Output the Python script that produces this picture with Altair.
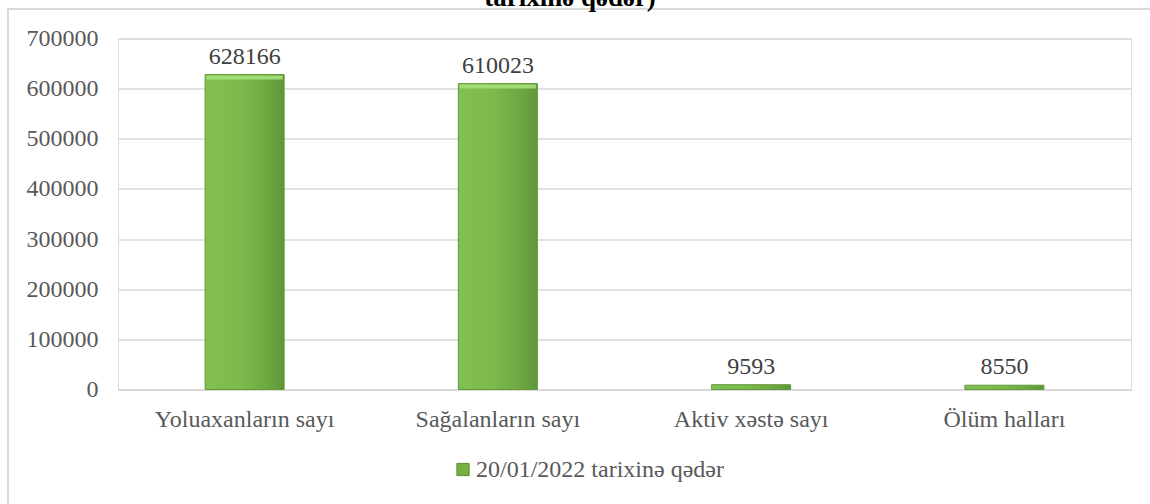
import altair as alt
import pandas as pd

categories = ["Yoluaxanların sayı", "Sağalanların sayı", "Aktiv xəstə sayı", "Ölüm halları"]
values = [628166, 610023, 9593, 8550]
series_name = "20/01/2022 tarixinə qədər"
title_tail = "tarixinə qədər)"
y_ticks = [0, 100000, 200000, 300000, 400000, 500000, 600000, 700000]

df = pd.DataFrame({"cat": categories, "val": values, "series": [series_name] * len(categories)})

W, H = 1013, 351
FONT = "Liberation Serif"
GRAY = "#595959"

x_enc = alt.X("cat:N", sort=categories,
              scale=alt.Scale(paddingInner=0.688, paddingOuter=0.344),
              axis=alt.Axis(title=None, labelAngle=0, labelFont=FONT, labelFontSize=24,
                            labelColor=GRAY, ticks=False, domainColor="#d9d9d9",
                            domainWidth=1.5, labelPadding=18))
y_enc = alt.Y("val:Q", scale=alt.Scale(domain=[0, 700000], nice=False),
              axis=alt.Axis(title=None, values=y_ticks, format="d", labelFont=FONT,
                            labelFontSize=24, labelColor=GRAY, ticks=False, domain=False,
                            gridColor="#d9d9d9", gridWidth=1.5, labelPadding=20))

grad = alt.Gradient(gradient="linear", x1=0, x2=1, y1=0, y2=0,
                    stops=[alt.GradientStop(color="#82c053", offset=0),
                           alt.GradientStop(color="#7cba4c", offset=0.45),
                           alt.GradientStop(color="#70aa42", offset=0.75),
                           alt.GradientStop(color="#5f963a", offset=1)])

base = alt.Chart(df)

border = base.mark_rect(fill=None, stroke="#d9d9d9", strokeWidth=1.5).encode(
    x=alt.value(-110), x2=alt.value(1040), y=alt.value(-29.5), y2=alt.value(480))

bars = base.mark_bar(fill=grad, stroke="#62993b", strokeWidth=1).encode(x=x_enc, y=y_enc)

bevel = base.transform_filter(alt.datum.val > 100000).mark_tick(
    color="#a3dd78", thickness=4, size=76, yOffset=3, opacity=0.95).encode(
    x=alt.X("cat:N", sort=categories), y="val:Q")

labels = base.mark_text(font=FONT, fontSize=24, color="#404040", dy=-6, baseline="bottom").encode(
    x=alt.X("cat:N", sort=categories), y="val:Q", text="val:Q")

legend_layer = base.mark_square(size=0, opacity=0).encode(
    x=alt.X("cat:N", sort=categories), y="val:Q",
    color=alt.Color("series:N", scale=alt.Scale(range=["#76b041"]),
                    legend=alt.Legend(title=None, orient="none", legendX=333, legendY=419,
                                      symbolType="square", symbolSize=150, symbolOpacity=1,
                                      symbolStrokeColor="#5a8f32", symbolStrokeWidth=1,
                                      labelFont=FONT, labelFontSize=24, labelColor=GRAY,
                                      labelLimit=0, labelOffset=1, symbolOffset=0)))

title = alt.Chart(pd.DataFrame({"t": [title_tail]})).mark_text(
    font=FONT, fontSize=27, fontWeight="bold", color="#000000", baseline="alphabetic",
    align="center").encode(x=alt.value(452), y=alt.value(-33), text="t:N")

chart = alt.layer(border, bars, bevel, labels, legend_layer, title).properties(
    width=W, height=H,
    autosize=alt.AutoSizeParams(type="none"),
    padding={"left": 118, "top": 38.5, "right": 19, "bottom": 114.5},
).configure_view(stroke=None).configure(background="white", font=FONT
).configure_text(font=FONT)

chart.save("out.html", embed_options={"renderer": "svg", "actions": False})
